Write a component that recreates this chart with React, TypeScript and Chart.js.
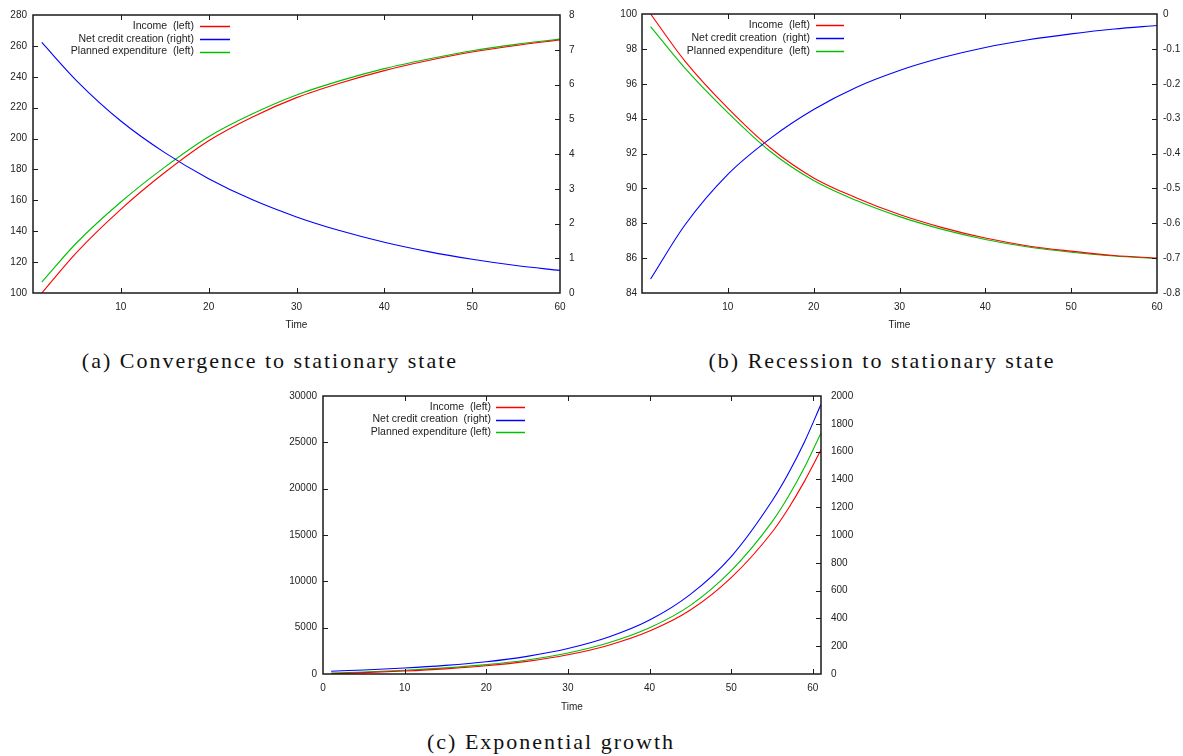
import React, { useEffect, useRef } from "react";
import { Chart, registerables } from "chart.js";

Chart.register(...registerables);

// ---------- Data ----------
// (a) Convergence to stationary state
const TIME_A = [1, 5, 10, 15, 20, 25, 30, 35, 40, 45, 50, 55, 60];
const INCOME_A = [100, 126.5, 154.2, 178, 198.6, 214, 226.5, 236, 244, 250.5, 256, 260.3, 263.8];
const CREDIT_A = [7.21, 6.1, 4.95, 4.04, 3.29, 2.68, 2.19, 1.79, 1.46, 1.19, 0.97, 0.79, 0.65];
const EXPEND_A = [107.1, 132.7, 158.9, 181.5, 201.2, 216, 228.2, 237.5, 245.3, 251.5, 256.9, 261, 264.4];
const LABELS_A = ["Income  (left)", "Net credit creation (right)", "Planned expenditure  (left)"];

// (b) Recession to stationary state
const TIME_B = [1, 5, 10, 15, 20, 25, 30, 35, 40, 45, 50, 55, 60];
const INCOME_B = [100.0, 97.3, 94.6, 92.3, 90.6, 89.45, 88.5, 87.75, 87.15, 86.7, 86.4, 86.15, 86.0];
const CREDIT_B = [-0.76, -0.605, -0.46, -0.356, -0.274, -0.21, -0.162, -0.125, -0.096, -0.074, -0.057, -0.043, -0.033];
const EXPEND_B = [99.28, 96.9, 94.35, 92.1, 90.45, 89.3, 88.38, 87.65, 87.07, 86.64, 86.34, 86.12, 85.97];
const LABELS_B = ["Income  (left)", "Net credit creation  (right)", "Planned expenditure  (left)"];

// (c) Exponential growth
const TIME_C = [1, 5, 10, 15, 20, 25, 30, 35, 40, 45, 50, 55, 57, 59, 61];
const INCOME_C = [36, 144, 316, 553, 884, 1362, 2071, 3107, 4630, 6900, 10400, 15300, 17860, 20840, 24200];
const CREDIT_C = [20, 29, 43, 62, 88, 127, 183, 266, 388, 573, 845, 1245, 1443, 1673, 1940];
const EXPEND_C = [100, 220, 410, 660, 1010, 1515, 2265, 3370, 4990, 7410, 11150, 16420, 19150, 22330, 26000];
const LABELS_C = ["Income  (left)", "Net credit creation  (right)", "Planned expenditure (left)"];

const CAPTIONS = ["(a) Convergence to stationary state", "(b) Recession to stationary state", "(c) Exponential growth"];

// ---------- Styles ----------
const RED = "#ff0000";
const BLUE = "#0000ff";
const GREEN = "#00c000";
const TEXT = "#222222";
const FONT = "'Liberation Sans', Arial, sans-serif";

const gnuplotFrame = {
  id: "gnuLegend",
  afterDatasetsDraw(chart: any, _args: any, opts: any) {
    const { ctx, chartArea: a } = chart;
    ctx.save();
    ctx.strokeStyle = "#1a1a1a";
    ctx.lineWidth = 1.5;
    ctx.strokeRect(a.left, a.top, a.right - a.left, a.bottom - a.top);
    ctx.lineWidth = 1;
    const len = 5;
    ctx.beginPath();
    const xs = chart.scales.x;
    xs.ticks.forEach((t: any) => {
      const px = Math.round(xs.getPixelForValue(t.value)) + 0.5;
      if (px <= a.left + 1 || px >= a.right - 1) return;
      ctx.moveTo(px, a.bottom);
      ctx.lineTo(px, a.bottom - len);
      ctx.moveTo(px, a.top);
      ctx.lineTo(px, a.top + len);
    });
    ["y", "y2"].forEach((id) => {
      const s = chart.scales[id];
      s.ticks.forEach((t: any) => {
        const py = Math.round(s.getPixelForValue(t.value)) + 0.5;
        if (py <= a.top + 1 || py >= a.bottom - 1) return;
        if (id === "y") {
          ctx.moveTo(a.left, py);
          ctx.lineTo(a.left + len, py);
        } else {
          ctx.moveTo(a.right, py);
          ctx.lineTo(a.right - len, py);
        }
      });
    });
    ctx.stroke();
    // gnuplot-like key: text right-aligned, line sample on its right
    ctx.font = `${opts.fontSize}px ${FONT}`;
    ctx.textAlign = "right";
    ctx.textBaseline = "middle";
    chart.data.datasets.forEach((ds: any, i: number) => {
      const y = a.top + opts.rowTop + i * opts.rowGap;
      ctx.fillStyle = TEXT;
      ctx.fillText(ds.label, a.left + opts.textRight, y);
      ctx.strokeStyle = ds.borderColor;
      ctx.lineWidth = 1.5;
      ctx.beginPath();
      ctx.moveTo(a.left + opts.lineStart, Math.round(y) + 0.5);
      ctx.lineTo(a.left + opts.lineEnd, Math.round(y) + 0.5);
      ctx.stroke();
    });
    ctx.restore();
  },
};

function buildConfig(p: any) {
  const mk = (vals: number[]) => p.time.map((t: number, i: number) => ({ x: t, y: vals[i] }));
  const tickFont = { family: FONT, size: 10 };
  return {
    type: "line",
    data: {
      datasets: [
        { label: p.labels[0], data: mk(p.income), borderColor: RED, yAxisID: "y" },
        { label: p.labels[1], data: mk(p.credit), borderColor: BLUE, yAxisID: "y2" },
        { label: p.labels[2], data: mk(p.expend), borderColor: GREEN, yAxisID: "y" },
      ].map((d) => ({
        ...d,
        borderWidth: 1.1,
        pointRadius: 0,
        fill: false,
        cubicInterpolationMode: "monotone",
      })),
    },
    options: {
      responsive: false,
      animation: false,
      events: [],
      layout: { padding: { top: 14, left: 0, right: 0, bottom: 0 }, autoPadding: false },
      plugins: {
        legend: { display: false },
        tooltip: { enabled: false },
        title: { display: false },
        gnuLegend: p.legend,
      },
      scales: {
        x: {
          type: "linear",
          position: "bottom",
          min: 0,
          max: p.xMax,
          afterFit: (s: any) => {
            s.height = p.xH;
          },
          grid: { display: false, drawTicks: false },
          border: { display: false },
          ticks: {
            stepSize: 10,
            includeBounds: false,
            autoSkip: false,
            maxRotation: 0,
            padding: 8,
            color: TEXT,
            font: tickFont,
            callback: (v: number) => (p.hideZero && v === 0 ? "" : String(v)),
          },
          title: {
            display: true,
            text: "Time",
            color: TEXT,
            font: tickFont,
            padding: { top: 0, bottom: p.titlePad },
          },
        },
        y: {
          type: "linear",
          position: "left",
          min: p.yL[0],
          max: p.yL[1],
          afterFit: (s: any) => {
            s.width = p.yLW;
          },
          grid: { display: false, drawTicks: false },
          border: { display: false },
          ticks: {
            stepSize: p.yL[2],
            autoSkip: false,
            padding: p.yLPad,
            color: TEXT,
            font: tickFont,
            callback: (v: number) => String(v),
          },
        },
        y2: {
          type: "linear",
          position: "right",
          min: p.yR[0],
          max: p.yR[1],
          afterFit: (s: any) => {
            s.width = p.yRW;
          },
          grid: { display: false, drawTicks: false },
          border: { display: false },
          ticks: {
            stepSize: p.yR[2],
            autoSkip: false,
            padding: p.yRPad,
            color: TEXT,
            font: tickFont,
            callback: p.fmtR || ((v: number) => String(v)),
          },
        },
      },
    },
    plugins: [gnuplotFrame],
  };
}

function Panel({ config, left, top, width, height }: any) {
  const ref = useRef<HTMLCanvasElement | null>(null);
  useEffect(() => {
    if (!ref.current) return;
    const chart = new Chart(ref.current, config);
    return () => chart.destroy();
  }, [config]);
  return (
    <canvas
      ref={ref}
      width={width}
      height={height}
      style={{ position: "absolute", left, top, width, height }}
    />
  );
}

const CONFIG_A = buildConfig({
  time: TIME_A, income: INCOME_A, credit: CREDIT_A, expend: EXPEND_A, labels: LABELS_A,
  xMax: 60, hideZero: true, xH: 47, titlePad: 9,
  yL: [100, 280, 20], yLW: 33, yLPad: 6,
  yR: [0, 8, 1], yRW: 30, yRPad: 9,
  legend: { textRight: 161, lineStart: 167, lineEnd: 197, rowTop: 11, rowGap: 12.8, fontSize: 10.5 },
});

const CONFIG_B = buildConfig({
  time: TIME_B, income: INCOME_B, credit: CREDIT_B, expend: EXPEND_B, labels: LABELS_B,
  xMax: 60, hideZero: true, xH: 47, titlePad: 9,
  yL: [84, 100, 2], yLW: 52, yLPad: 5,
  yR: [-0.8, 0, 0.1], yRW: 26, yRPad: 6,
  fmtR: (v: number) => (Math.abs(v) < 1e-9 ? "0" : v.toFixed(1)),
  legend: { textRight: 168, lineStart: 174, lineEnd: 202, rowTop: 11, rowGap: 13, fontSize: 10.5 },
});

const CONFIG_C = buildConfig({
  time: TIME_C, income: INCOME_C, credit: CREDIT_C, expend: EXPEND_C, labels: LABELS_C,
  xMax: 61, hideZero: false, xH: 46, titlePad: 7,
  yL: [0, 30000, 5000], yLW: 53, yLPad: 6,
  yR: [0, 2000, 200], yRW: 49, yRPad: 10,
  legend: { textRight: 168, lineStart: 173, lineEnd: 202, rowTop: 11, rowGap: 12.5, fontSize: 10.5 },
});

const captionStyle: any = {
  position: "absolute",
  fontFamily: "'Liberation Serif', 'Times New Roman', serif",
  fontSize: 22,
  letterSpacing: 2,
  lineHeight: "26px",
  whiteSpace: "nowrap",
  color: "#111",
  transform: "translateX(-50%)",
};

export default function App() {
  return (
    <div
      style={{
        position: "fixed",
        left: 0,
        top: 0,
        width: 1183,
        height: 756,
        overflow: "hidden",
        background: "#ffffff",
      }}
    >
      <Panel config={CONFIG_A} left={0} top={0} width={590} height={340} />
      <Panel config={CONFIG_B} left={590} top={0} width={593} height={340} />
      <Panel config={CONFIG_C} left={270} top={380} width={600} height={340} />
      <div style={{ ...captionStyle, left: 270, top: 348 }}>{CAPTIONS[0]}</div>
      <div style={{ ...captionStyle, left: 882, top: 348 }}>{CAPTIONS[1]}</div>
      <div style={{ ...captionStyle, left: 551, top: 729 }}>{CAPTIONS[2]}</div>
    </div>
  );
}
